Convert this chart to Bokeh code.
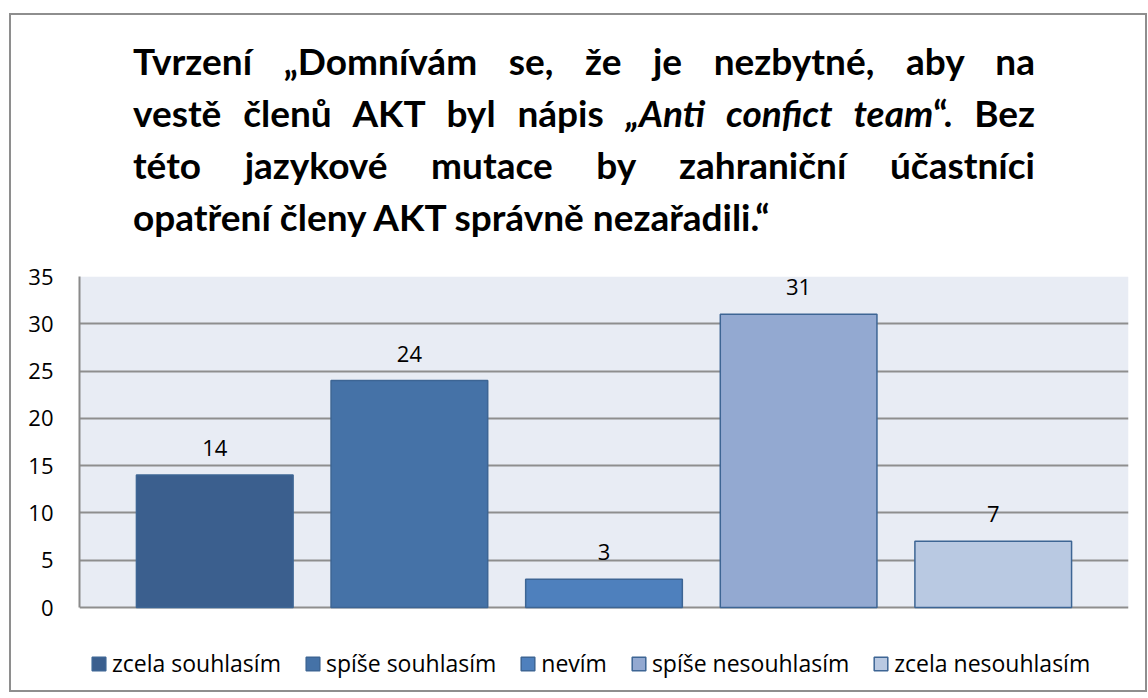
from bokeh.plotting import figure
from bokeh.models import (ColumnDataSource, Legend, LegendItem, Div, FactorRange, FixedTicker,
                          Range1d, BoxAnnotation)
from bokeh.layouts import column
from bokeh.embed import file_html
from bokeh.resources import INLINE
from bokeh.core.properties import value

# ---- data ----
categories = ["zcela souhlasím", "spíše souhlasím", "nevím", "spíše nesouhlasím", "zcela nesouhlasím"]
counts = [14, 24, 3, 31, 7]
bar_colors = ["#3B5F8E", "#4572A7", "#4E80BD", "#93A9D1", "#B9C9E2"]
y_ticks = [0, 5, 10, 15, 20, 25, 30, 35]
y_max = 35
title_lines = [
    "Tvrzení „Domnívám se, že je nezbytné, aby na",
    "vestě členů AKT byl nápis <i>„Anti confict team</i>“. Bez",
    "této jazykové mutace by zahraniční účastníci",
    "opatření členy AKT správně nezařadili.“",
]

TITLE_FONT = "Lato"
FONT = "Open Sans"

# ---- title (justified, like the original) ----
line_html = []
for i, t in enumerate(title_lines):
    last = "left" if i == len(title_lines) - 1 else "justify"
    line_html.append(
        f'<div style="text-align:justify;text-align-last:{last};white-space:nowrap;">{t}</div>'
    )
title_html = (
    f'<div style="margin-left:122px;width:902px;padding-top:20px;'
    f'font-family:{TITLE_FONT};font-weight:bold;font-size:37px;line-height:52px;color:#000;">'
    + "".join(line_html) + "</div>"
)
title_div = Div(text=title_html, width=1134, height=228, margin=0)

# ---- chart ----
# plot area: 331 px for 0..35; the frame continues 414 px down to hold the legend
PLOT_PX, FRAME_PX = 331, 414
y_min = y_max - y_max * FRAME_PX / PLOT_PX

src = ColumnDataSource(dict(cat=categories, val=counts, color=bar_colors,
                            label=[str(v) for v in counts]))

p = figure(
    x_range=FactorRange(factors=categories, range_padding=0.195, range_padding_units="absolute"),
    y_range=Range1d(y_min, y_max),
    width=1134, height=33 + FRAME_PX,
    output_backend="svg", toolbar_location=None,
    min_border_left=68, min_border_right=17, min_border_top=33, min_border_bottom=0,
    margin=0,
)
p.background_fill_color = "white"
p.border_fill_color = "white"
p.outline_line_color = None

# light plot-area background only over the value range
p.add_layout(BoxAnnotation(bottom=0, top=y_max, fill_color="#E8ECF4", fill_alpha=1,
                           line_color=None, level="image"))

r = p.vbar(x="cat", top="val", width=0.805, source=src, fill_color="color",
           line_color="#3D6594", line_width=1.5)

p.text(x="cat", y="val", text="label", source=src, text_align="center",
       text_baseline="alphabetic", y_offset=-27, text_font=value(FONT),
       text_font_size="22px", text_color="black")

p.yaxis.ticker = FixedTicker(ticks=y_ticks)
p.yaxis.bounds = (0, y_max)
p.yaxis.major_label_text_font = FONT
p.yaxis.major_label_text_font_size = "22px"
p.yaxis.major_label_text_color = "black"
p.yaxis.major_tick_out = 0
p.yaxis.major_tick_in = 0
p.yaxis.minor_tick_out = 0
p.yaxis.minor_tick_in = 0
p.yaxis.major_label_standoff = 26
p.yaxis.axis_line_color = "#8A8A8A"
p.yaxis.axis_line_width = 2

p.xaxis.visible = False

p.xgrid.grid_line_color = None
p.ygrid.grid_line_color = "#8E8E8E"
p.ygrid.grid_line_width = 2

items = [LegendItem(label=c, renderers=[r], index=i) for i, c in enumerate(categories)]
legend = Legend(items=items, orientation="horizontal", location=(11, 11),
                label_text_font=FONT, label_text_font_size="23px", label_text_color="black",
                glyph_width=17, glyph_height=17, label_standoff=5, spacing=23,
                padding=0, margin=0, border_line_alpha=0, background_fill_alpha=0)
p.add_layout(legend, "center")

layout = column(title_div, p, margin=(13, 0, 0, 9),
                styles={"border": "2px solid #8E8E8E"})

open("out.html", "w").write(file_html(layout, INLINE))
